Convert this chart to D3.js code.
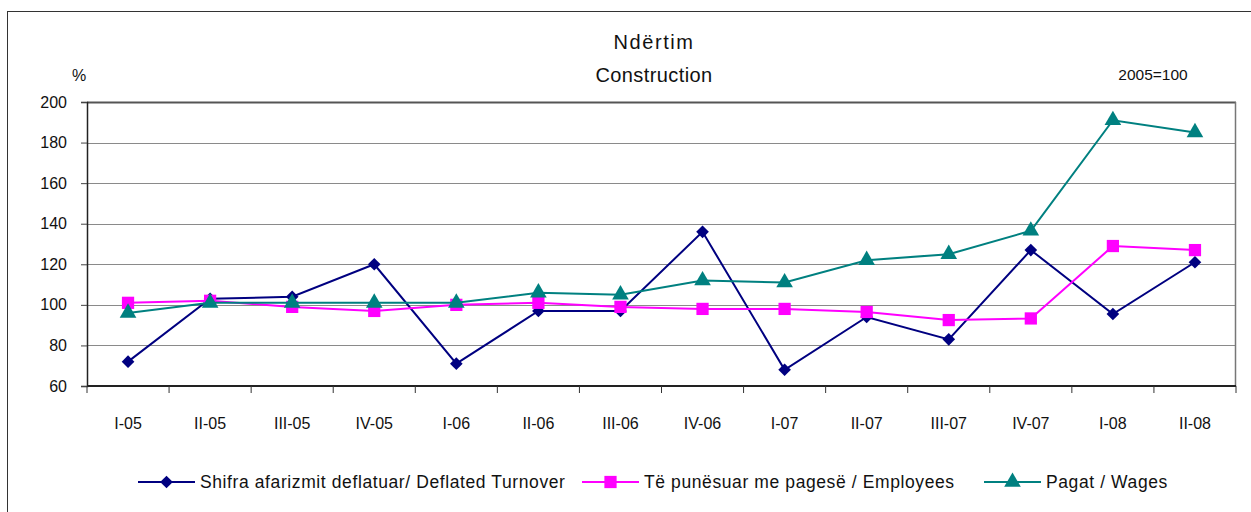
<!DOCTYPE html>
<html>
<head>
<meta charset="utf-8">
<script src="https://cdn.jsdelivr.net/npm/d3@7"></script>
<style>
  body { margin: 0; background: #fff; }
  svg text { font-family: "Liberation Sans", Arial, sans-serif; fill: #111; }
</style>
</head>
<body>
<div id="wrapper"></div>
<script>
const quarters = ["I-05", "II-05", "III-05", "IV-05", "I-06", "II-06", "III-06", "IV-06",
  "I-07", "II-07", "III-07", "IV-07", "I-08", "II-08"]
const turnover = [72, 103, 104, 120, 71, 97, 97, 136, 68, 94, 83, 127, 95.5, 121]
const employees = [101, 102, 99, 97, 100, 101, 99, 98, 98, 96.5, 92.5, 93.3, 129, 127]
const wages = [96, 101, 101, 101, 101, 106, 105, 112, 111, 122, 125, 136.5, 191, 185]
const yTicks = [60, 80, 100, 120, 140, 160, 180, 200]

// diamond = square turned 45deg, like the spreadsheet marker
const series = [
  { name: "Shifra afarizmit deflatuar/ Deflated Turnover", values: turnover, color: "#000080", symbol: d3.symbolSquare, size: 80, rotate: 45 },
  { name: "Të punësuar me pagesë / Employees", values: employees, color: "#ff00ff", symbol: d3.symbolSquare, size: 150, rotate: 0 },
  { name: "Pagat / Wages", values: wages, color: "#008080", symbol: d3.symbolTriangle, size: 120, rotate: 0 },
]

// dimensions
const dimensions = {
  width: 1251,
  height: 512,
  margin: { top: 102, right: 15, bottom: 126, left: 87 },
}
dimensions.boundedWidth = dimensions.width - dimensions.margin.left - dimensions.margin.right
dimensions.boundedHeight = dimensions.height - dimensions.margin.top - dimensions.margin.bottom

const svg = d3.select("#wrapper")
  .append("svg")
    .attr("width", dimensions.width)
    .attr("height", dimensions.height)

// outer chart frame
svg.append("rect")
    .attr("x", 7.5).attr("y", 11.5)
    .attr("width", 1260).attr("height", 520)
    .attr("fill", "none").attr("stroke", "#333").attr("stroke-width", 1)

const bounds = svg.append("g")
    .attr("transform", `translate(${dimensions.margin.left},${dimensions.margin.top})`)

const xScale = d3.scaleBand()
  .domain(quarters)
  .range([0, dimensions.boundedWidth])

const yScale = d3.scaleLinear()
  .domain([60, 200])
  .range([dimensions.boundedHeight, 0])

// gridlines
bounds.append("g")
  .selectAll("line")
  .data(yTicks.filter(t => t > 60 && t < 200))
  .join("line")
    .attr("x1", 0).attr("x2", dimensions.boundedWidth)
    .attr("y1", d => Math.round(yScale(d)) + 0.5)
    .attr("y2", d => Math.round(yScale(d)) + 0.5)
    .attr("stroke", "#8a8a8a").attr("stroke-width", 1)

// plot border top / right
bounds.append("line")
    .attr("x1", 0).attr("x2", dimensions.boundedWidth)
    .attr("y1", 0.5).attr("y2", 0.5)
    .attr("stroke", "#555").attr("stroke-width", 2)
bounds.append("line")
    .attr("x1", dimensions.boundedWidth - 0.5).attr("x2", dimensions.boundedWidth - 0.5)
    .attr("y1", 0).attr("y2", dimensions.boundedHeight)
    .attr("stroke", "#777").attr("stroke-width", 1.5)

// y axis
const yAxis = bounds.append("g")
  .call(d3.axisLeft(yScale).tickValues(yTicks).tickSize(6).tickPadding(14))
yAxis.select(".domain").attr("stroke", "#222").attr("stroke-width", 1.5)
yAxis.selectAll(".tick line").attr("stroke", "#444")
yAxis.selectAll("text").attr("font-size", 16).attr("font-family", "Liberation Sans, Arial, sans-serif").attr("fill", "#111")

// x axis: ticks between categories
const xAxis = bounds.append("g")
    .attr("transform", `translate(0,${dimensions.boundedHeight})`)
xAxis.append("line")
    .attr("x1", 0).attr("x2", dimensions.boundedWidth)
    .attr("stroke", "#222").attr("stroke-width", 2)
xAxis.selectAll(".sep")
  .data(quarters.concat(["end"]))
  .join("line")
    .attr("class", "sep")
    .attr("x1", (d, i) => i === quarters.length ? dimensions.boundedWidth : xScale(d))
    .attr("x2", (d, i) => i === quarters.length ? dimensions.boundedWidth : xScale(d))
    .attr("y1", 0).attr("y2", 7)
    .attr("stroke", "#333").attr("stroke-width", 1)
xAxis.selectAll("text")
  .data(quarters)
  .join("text")
    .attr("x", d => xScale(d) + xScale.bandwidth() / 2)
    .attr("y", 43)
    .attr("text-anchor", "middle")
    .attr("font-size", 16)
    .text(d => d)

// lines + markers
const line = d3.line()
  .x((d, i) => xScale(quarters[i]) + xScale.bandwidth() / 2)
  .y(d => yScale(d))

series.forEach(s => {
  bounds.append("path")
      .datum(s.values)
      .attr("d", line)
      .attr("fill", "none")
      .attr("stroke", s.color)
      .attr("stroke-width", 2)
  bounds.append("g")
    .selectAll("path")
    .data(s.values)
    .join("path")
      .attr("transform", (d, i) => `translate(${xScale(quarters[i]) + xScale.bandwidth() / 2},${yScale(d)}) rotate(${s.rotate})`)
      .attr("d", d3.symbol().type(s.symbol).size(s.size))
      .attr("fill", s.color)
})

// titles
svg.append("text")
    .attr("x", 654).attr("y", 49)
    .attr("text-anchor", "middle")
    .attr("font-size", 20)
    .style("letter-spacing", "1.6px")
    .text("Ndërtim")
svg.append("text")
    .attr("x", 654).attr("y", 82)
    .attr("text-anchor", "middle")
    .attr("font-size", 20)
    .style("letter-spacing", "0.4px")
    .text("Construction")
svg.append("text")
    .attr("x", 79).attr("y", 81)
    .attr("text-anchor", "middle")
    .attr("font-size", 16)
    .text("%")
svg.append("text")
    .attr("x", 1153).attr("y", 80)
    .attr("text-anchor", "middle")
    .attr("font-size", 15.5)
    .text("2005=100")

// legend
const legendX = [138, 582, 984]
const legend = svg.append("g")
series.forEach((s, i) => {
  const g = legend.append("g").attr("transform", `translate(${legendX[i]},482)`)
  g.append("line").attr("x1", 0).attr("x2", 57).attr("stroke", s.color).attr("stroke-width", 2)
  g.append("path")
      .attr("transform", `translate(28.5,0) rotate(${s.rotate})`)
      .attr("d", d3.symbol().type(s.symbol).size(s.size))
      .attr("fill", s.color)
  g.append("text")
      .attr("x", 62).attr("y", 6)
      .attr("font-size", 17.5)
      .style("letter-spacing", "0.6px")
      .text(s.name)
})
</script>
</body>
</html>
